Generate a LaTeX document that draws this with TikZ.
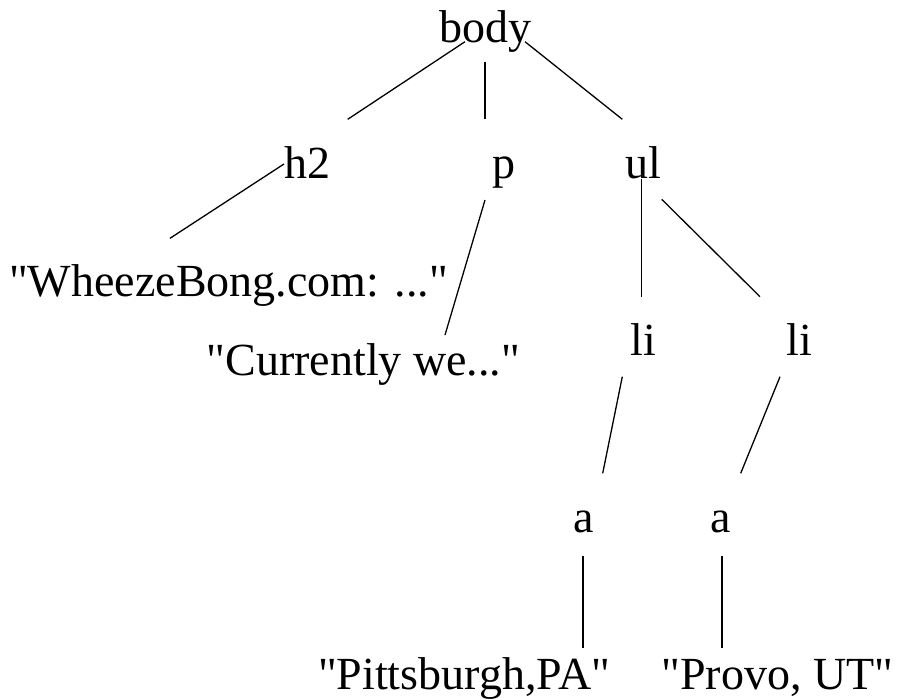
\documentclass[tikz,border=0pt]{standalone}
\usepackage{fontspec}
\setmainfont{Liberation Serif}[Ligatures=TeXOff]
\begin{document}
\begin{tikzpicture}[x=1pt,y=-1pt,
  lbl/.style={anchor=base,inner sep=0pt,outer sep=0pt,font=\fontsize{46}{50}\selectfont},
  edge/.style={line width=1.3pt,line cap=butt}]
\useasboundingbox (0,0) rectangle (900,699);
% nodes
\node[lbl] (body) at (485,42) {body};
\node[lbl] (h2) at (307,178) {h2};
\node[lbl] (p) at (504,178) {p};
\node[lbl] (ul) at (643,178) {ul};
\node[lbl] (wb) at (228.5,296.7) {"WheezeBong.com: ..."};
\node[lbl] (cw) at (363.5,375) {"Currently we..."};
\node[lbl] (li1) at (643,355) {li};
\node[lbl] (li2) at (799,355) {li};
\node[lbl] (a1) at (584,532.5) {a};
\node[lbl] (a2) at (721,532.5) {a};
\node[lbl] (pit) at (464,689) {"Pittsburgh,PA"};
\node[lbl] (pro) at (777.5,689) {"Provo, UT"};
% connector ends
\coordinate (bh2s) at (465,41.7);   \coordinate (bh2e) at (347.7,119.3);
\coordinate (bps) at (485,61.7);    \coordinate (bpe) at (485,119.3);
\coordinate (buls) at (525,41.7);   \coordinate (bule) at (622.3,119.3);
\coordinate (hws) at (284,164);     \coordinate (hwe) at (170,238.3);
\coordinate (pcs) at (485,200);     \coordinate (pce) at (445,335);
\coordinate (ul1s) at (641.7,179);  \coordinate (ul1e) at (641.7,296.7);
\coordinate (ul2s) at (661.7,199.3);\coordinate (ul2e) at (760,296.7);
\coordinate (la1s) at (622.3,376.7);\coordinate (la1e) at (602.7,473.3);
\coordinate (la2s) at (780,376.7);  \coordinate (la2e) at (740.7,473.3);
\coordinate (ap1s) at (583,556);    \coordinate (ap1e) at (583,648);
\coordinate (ap2s) at (722,556);    \coordinate (ap2e) at (722,648);
% connectors
\draw[edge] (bh2s) -- (bh2e);
\draw[edge] (bps) -- (bpe);
\draw[edge] (buls) -- (bule);
\draw[edge] (hws) -- (hwe);
\draw[edge] (pcs) -- (pce);
\draw[edge] (ul1s) -- (ul1e);
\draw[edge] (ul2s) -- (ul2e);
\draw[edge] (la1s) -- (la1e);
\draw[edge] (la2s) -- (la2e);
\draw[edge] (ap1s) -- (ap1e);
\draw[edge] (ap2s) -- (ap2e);
\end{tikzpicture}
\end{document}
